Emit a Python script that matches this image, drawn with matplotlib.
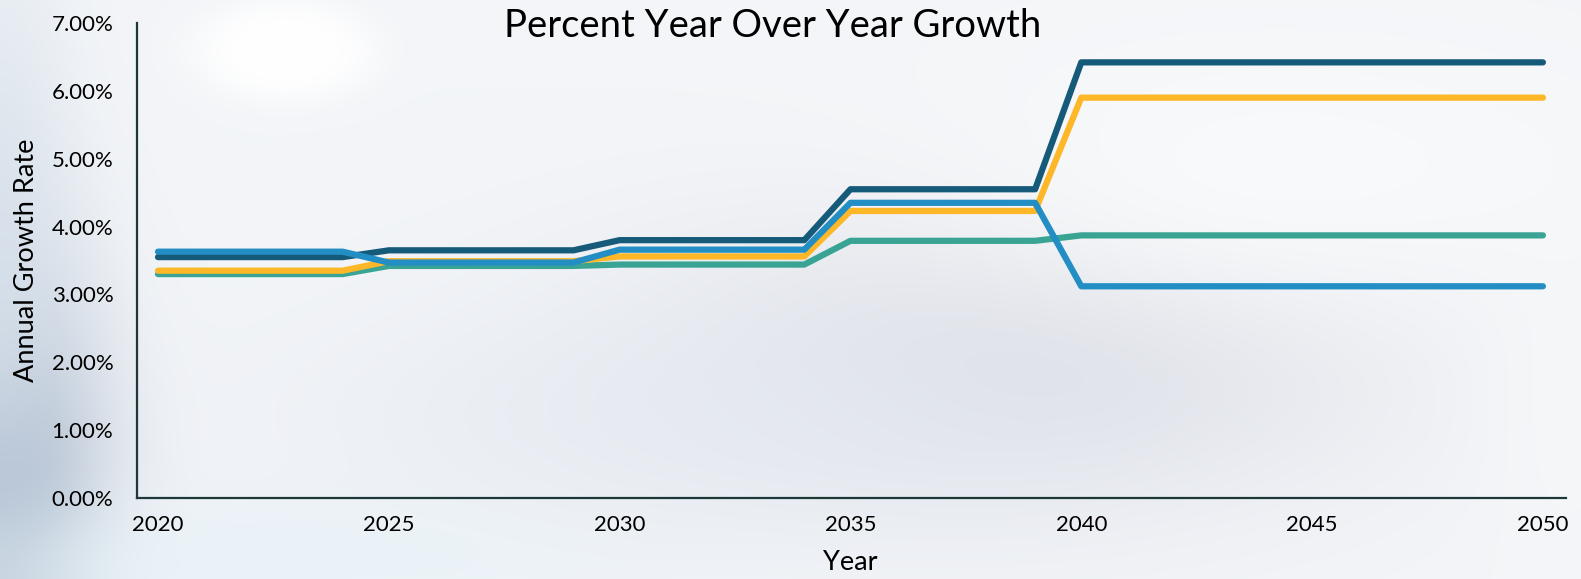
import matplotlib
matplotlib.use("Agg")
import matplotlib.pyplot as plt
import numpy as np

# yearly growth rates [%], one value per year 2020..2050
years = np.arange(2020, 2051)

# rates hold for five-year blocks: 2020-24, 2025-29, 2030-34, 2035-39, 2040-50
navy_blocks = [3.55, 3.65, 3.80, 4.55, 6.42]
yellow_blocks = [3.35, 3.49, 3.56, 4.23, 5.90]
teal_blocks = [3.30, 3.42, 3.44, 3.79, 3.87]
blue_blocks = [3.63, 3.47, 3.66, 4.35, 3.12]
block_lengths = [5, 5, 5, 5, 11]

def expand(blocks):
    return np.repeat(blocks, block_lengths)

navy = expand(navy_blocks)
yellow = expand(yellow_blocks)
teal = expand(teal_blocks)
blue = expand(blue_blocks)

y_ticks = [0, 1, 2, 3, 4, 5, 6, 7]
x_ticks = [2020, 2025, 2030, 2035, 2040, 2045, 2050]

W, H = 1581, 579
plt.rcParams['font.family'] = ['Lato', 'DejaVu Sans']

fig = plt.figure(figsize=(W / 100, H / 100), dpi=100)

# soft hazy backdrop
yy, xx = np.mgrid[0:H, 0:W]
bg = np.ones((H, W, 3)) * np.array([0.953, 0.961, 0.973])

def blob(img, cx, cy, sx, sy, color, strength, power=2):
    d = ((xx - cx) / sx) ** 2 + ((yy - cy) / sy) ** 2
    w = strength * np.exp(-(d ** (power / 2)) / 2)
    w = w[..., None]
    return img * (1 - w) + np.array(color) * w

bg = blob(bg, 1020, 340, 250, 110, [0.84, 0.85, 0.885], 0.9)
bg = blob(bg, 700, 420, 300, 90, [0.89, 0.91, 0.94], 0.6)
bg = blob(bg, 0, 480, 70, 150, [0.64, 0.70, 0.78], 1.0)
bg = blob(bg, 0, 250, 50, 200, [0.84, 0.88, 0.92], 0.8)
bg = blob(bg, 250, 565, 220, 45, [0.90, 0.95, 0.97], 0.7)
bg = blob(bg, 285, 50, 80, 45, [1.0, 1.0, 1.0], 1.0, power=4)
bg = blob(bg, 1250, 180, 300, 110, [0.985, 0.988, 0.99], 0.8)
bg = blob(bg, 1560, 400, 60, 120, [0.97, 0.975, 0.98], 0.6)
bg = np.clip(bg, 0, 1)

bg_ax = fig.add_axes([0, 0, 1, 1], zorder=-1)
bg_ax.imshow(bg, aspect='auto')
bg_ax.axis('off')

ax = fig.add_axes([137 / W, 1 - 498 / H, (1566 - 137) / W, (498 - 23) / H])
ax.patch.set_alpha(0)

lw = 4.5
ax.plot(years, teal, color='#3aa494', lw=lw, solid_capstyle='round', zorder=2)
ax.plot(years, yellow, color='#fdb727', lw=lw, solid_capstyle='round', zorder=3)
ax.plot(years, navy, color='#165a7a', lw=lw, solid_capstyle='round', zorder=4)
ax.plot(years, blue, color='#238ec4', lw=lw, solid_capstyle='round', zorder=5)

ax.set_xlim(2019.545, 2050.5)
ax.set_ylim(0, 7)
ax.set_yticks(y_ticks)
ax.set_yticklabels(['{:.2f}%'.format(v) for v in y_ticks])
ax.set_xticks(x_ticks)
ax.set_xticklabels([str(v) for v in x_ticks])
ax.tick_params(axis='y', length=0, pad=17, labelsize=16)
ax.tick_params(axis='x', length=0, pad=12, labelsize=16)

for side in ['top', 'right']:
    ax.spines[side].set_visible(False)
for side in ['left', 'bottom']:
    ax.spines[side].set_color('#1d3838')
    ax.spines[side].set_linewidth(1.6)

fig.text(773 / W, 1 - 26 / H, 'Percent Year Over Year Growth',
         ha='center', va='center', fontsize=27.5)
fig.text(850 / W, 1 - 563 / H, 'Year', ha='center', va='center', fontsize=19.5)
fig.text(27 / W, 1 - 260 / H, 'Annual Growth Rate', ha='center', va='center',
         rotation=90, fontsize=19.5)

fig.savefig('out.png', dpi=100)
